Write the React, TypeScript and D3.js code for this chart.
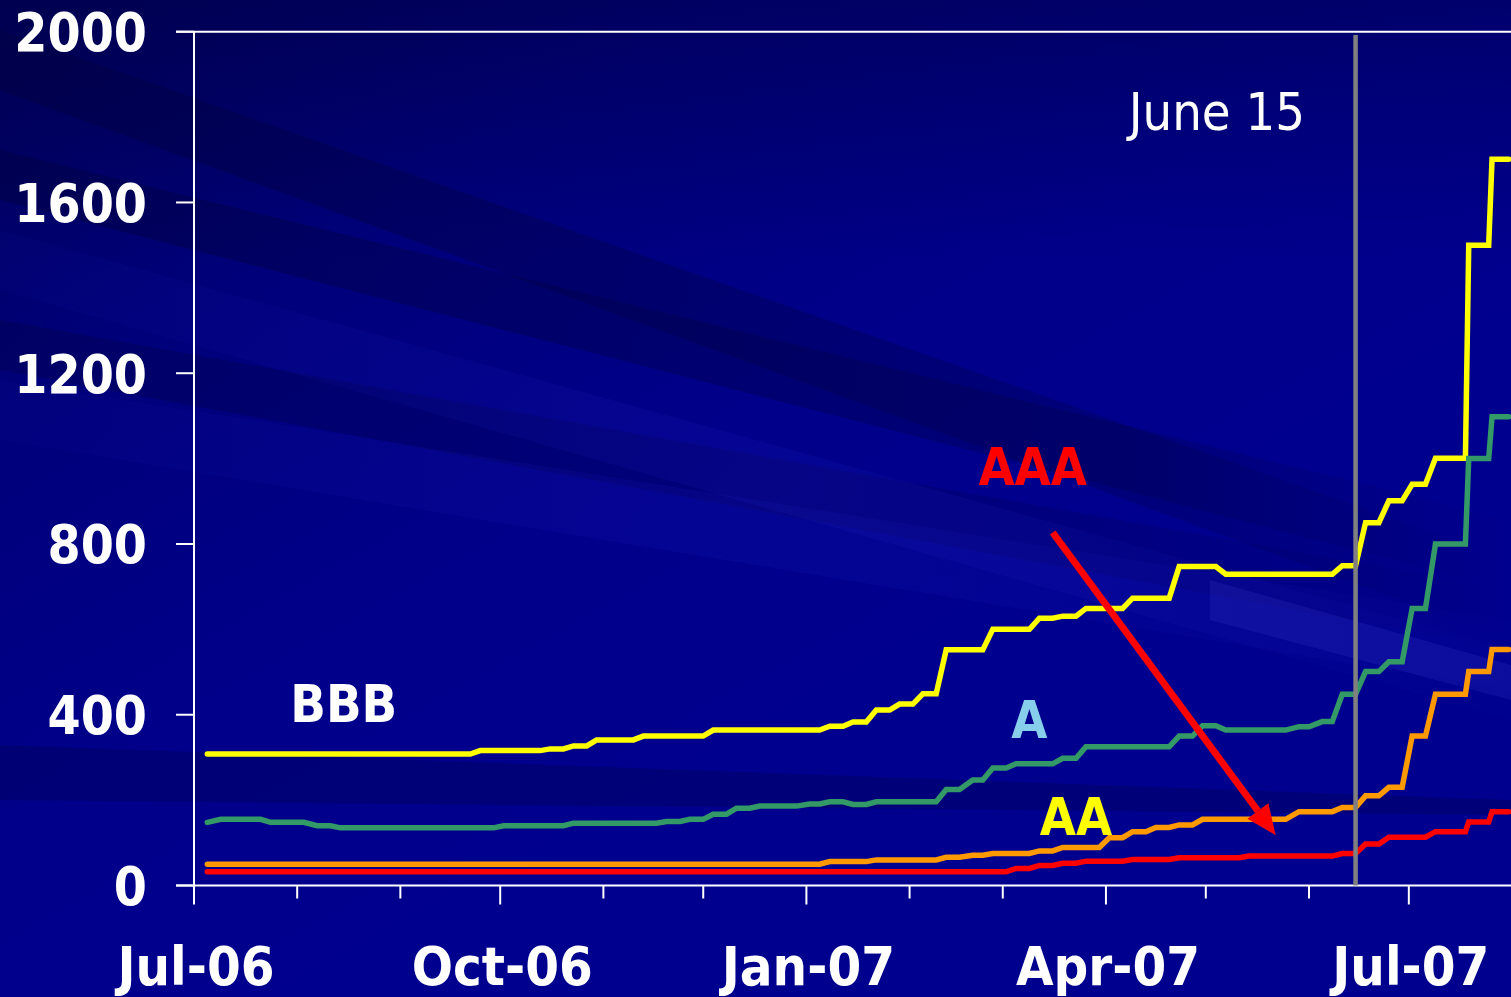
import React from "react";
import * as d3 from "d3";

// ---------- data ----------
type Seg = [string, string, number]; // [from, to, spread bp]

const bbbSegs: Seg[] = [
  ["2006-07-05", "2006-09-22", 308],
  ["2006-09-25", "2006-10-13", 316],
  ["2006-10-16", "2006-10-20", 320],
  ["2006-10-23", "2006-10-27", 327],
  ["2006-10-30", "2006-11-10", 341],
  ["2006-11-13", "2006-12-01", 350],
  ["2006-12-04", "2007-01-05", 364],
  ["2007-01-08", "2007-01-12", 373],
  ["2007-01-15", "2007-01-19", 383],
  ["2007-01-22", "2007-01-26", 411],
  ["2007-01-29", "2007-02-02", 425],
  ["2007-02-05", "2007-02-09", 449],
  ["2007-02-12", "2007-02-23", 552],
  ["2007-02-26", "2007-03-09", 600],
  ["2007-03-12", "2007-03-16", 626],
  ["2007-03-19", "2007-03-23", 631],
  ["2007-03-26", "2007-04-06", 649],
  ["2007-04-09", "2007-04-20", 673],
  ["2007-04-23", "2007-05-04", 747],
  ["2007-05-07", "2007-06-08", 729],
  ["2007-06-11", "2007-06-15", 749],
  ["2007-06-18", "2007-06-22", 850],
  ["2007-06-25", "2007-06-29", 901],
  ["2007-07-02", "2007-07-06", 940],
  ["2007-07-09", "2007-07-18", 1001],
  ["2007-07-19", "2007-07-25", 1500],
  ["2007-07-26", "2007-07-31", 1701],
];

const aSegs: Seg[] = [
  ["2006-07-05", "2006-07-05", 148],
  ["2006-07-09", "2006-07-21", 155],
  ["2006-07-24", "2006-08-03", 148],
  ["2006-08-07", "2006-08-11", 140],
  ["2006-08-14", "2006-09-29", 135],
  ["2006-10-02", "2006-10-20", 140],
  ["2006-10-23", "2006-11-17", 146],
  ["2006-11-20", "2006-11-24", 150],
  ["2006-11-27", "2006-12-01", 155],
  ["2006-12-04", "2006-12-08", 167],
  ["2006-12-11", "2006-12-15", 181],
  ["2006-12-18", "2006-12-29", 186],
  ["2007-01-02", "2007-01-05", 191],
  ["2007-01-08", "2007-01-12", 196],
  ["2007-01-15", "2007-01-19", 190],
  ["2007-01-22", "2007-02-09", 196],
  ["2007-02-12", "2007-02-16", 225],
  ["2007-02-20", "2007-02-23", 247],
  ["2007-02-26", "2007-03-02", 275],
  ["2007-03-05", "2007-03-16", 285],
  ["2007-03-19", "2007-03-23", 298],
  ["2007-03-26", "2007-04-20", 325],
  ["2007-04-23", "2007-04-27", 350],
  ["2007-04-30", "2007-05-04", 374],
  ["2007-05-07", "2007-05-25", 364],
  ["2007-05-29", "2007-06-01", 372],
  ["2007-06-05", "2007-06-08", 384],
  ["2007-06-11", "2007-06-15", 448],
  ["2007-06-18", "2007-06-22", 501],
  ["2007-06-25", "2007-06-29", 524],
  ["2007-07-02", "2007-07-06", 649],
  ["2007-07-09", "2007-07-18", 800],
  ["2007-07-19", "2007-07-25", 1000],
  ["2007-07-26", "2007-07-31", 1098],
];

const aaSegs: Seg[] = [
  ["2006-07-05", "2007-01-05", 50],
  ["2007-01-08", "2007-01-19", 56],
  ["2007-01-22", "2007-02-09", 60],
  ["2007-02-12", "2007-02-16", 66],
  ["2007-02-20", "2007-02-23", 71],
  ["2007-02-26", "2007-03-09", 75],
  ["2007-03-12", "2007-03-16", 81],
  ["2007-03-19", "2007-03-30", 89],
  ["2007-04-02", "2007-04-06", 112],
  ["2007-04-09", "2007-04-13", 126],
  ["2007-04-16", "2007-04-20", 136],
  ["2007-04-23", "2007-04-27", 142],
  ["2007-04-30", "2007-05-25", 155],
  ["2007-05-29", "2007-06-08", 173],
  ["2007-06-11", "2007-06-15", 183],
  ["2007-06-18", "2007-06-22", 210],
  ["2007-06-25", "2007-06-29", 230],
  ["2007-07-02", "2007-07-06", 350],
  ["2007-07-09", "2007-07-18", 448],
  ["2007-07-19", "2007-07-25", 501],
  ["2007-07-26", "2007-07-31", 553],
];

const aaaSegs: Seg[] = [
  ["2006-07-05", "2007-03-02", 32],
  ["2007-03-05", "2007-03-09", 40],
  ["2007-03-12", "2007-03-16", 47],
  ["2007-03-19", "2007-03-23", 52],
  ["2007-03-26", "2007-04-06", 57],
  ["2007-04-09", "2007-04-20", 61],
  ["2007-04-23", "2007-05-11", 65],
  ["2007-05-14", "2007-06-08", 69],
  ["2007-06-11", "2007-06-15", 75],
  ["2007-06-18", "2007-06-22", 97],
  ["2007-06-25", "2007-07-06", 113],
  ["2007-07-09", "2007-07-18", 126],
  ["2007-07-19", "2007-07-25", 149],
  ["2007-07-26", "2007-07-31", 173],
];

const seriesNames = ["BBB", "A", "AA", "AAA"];
const seriesColors = ["#FFFF00", "#339966", "#FF9900", "#FF0000"];
const seriesData = [bbbSegs, aSegs, aaSegs, aaaSegs];

const yTicks = [0, 400, 800, 1200, 1600, 2000];
const xLabelDates = ["2006-07-01", "2006-10-01", "2007-01-01", "2007-04-01", "2007-07-01"];
const xLabelTexts = ["Jul-06", "Oct-06", "Jan-07", "Apr-07", "Jul-07"];
const xDomain = ["2006-07-01", "2007-08-01"];
const markerDate = "2007-06-15";
const markerText = "June 15";

// labels: [text, anchor date, value, color]
const seriesLabels: [string, string, number, string][] = [
  ["BBB", "2006-08-15", 383, "#FFFFFF"],
  ["A", "2007-03-09", 345, "#87CEEB"],
  ["AA", "2007-03-23", 118, "#FFFF00"],
  ["AAA", "2007-03-10", 938, "#FF0000"],
];
// arrow from/to in data space
const arrowFrom: [string, number] = ["2007-03-16", 827];
const arrowTo: [string, number] = ["2007-05-22", 118];

// ---------- layout ----------
const W = 1511;
const H = 997;
const X0 = 194;
const X1 = 1512;
const Y0 = 885.5;
const Y1 = 31.7;
const FONT = '"DejaVu Sans Condensed", "DejaVu Sans", Verdana, sans-serif';

const parse = d3.timeParse("%Y-%m-%d")!;

export default function App() {
  const x = d3.scaleTime().domain(xDomain.map((d) => parse(d)!)).range([X0, X1]);
  const y = d3.scaleLinear().domain([0, 2000]).range([Y0, Y1]);

  const line = d3
    .line<[Date, number]>()
    .x((d) => x(d[0]))
    .y((d) => y(d[1]));

  const paths = seriesData.map((segs) => {
    const pts: [Date, number][] = [];
    segs.forEach(([a, b, v]) => {
      pts.push([parse(a)!, v]);
      if (b !== a) pts.push([parse(b)!, v]);
    });
    return line(pts) || "";
  });

  const months = x.ticks(d3.timeMonth.every(1)!);
  const mx = x(parse(markerDate)!);

  // arrow geometry
  const ax1 = x(parse(arrowFrom[0])!);
  const ay1 = y(arrowFrom[1]);
  const ax2 = x(parse(arrowTo[0])!);
  const ay2 = y(arrowTo[1]);
  const ang = Math.atan2(ay2 - ay1, ax2 - ax1);
  const headLen = 30;
  const headW = 13;
  const bx = ax2 - headLen * Math.cos(ang);
  const by = ay2 - headLen * Math.sin(ang);
  const px = -Math.sin(ang);
  const py = Math.cos(ang);
  const head = `M${ax2},${ay2}L${bx + headW * px},${by + headW * py}L${bx - headW * px},${by - headW * py}Z`;

  // decorative background bands
  const band = (l1: number, l2: number, r1: number, r2: number, xl = 0, xr = W) =>
    `M${xl},${l1}L${xr},${r1}L${xr},${r2}L${xl},${l2}Z`;

  return (
    <svg
      width={W}
      height={H}
      style={{ position: "absolute", left: 0, top: 0, display: "block" }}
      fontFamily={FONT}
    >
      <defs>
        <linearGradient id="bg" gradientUnits="userSpaceOnUse" x1={0} y1={0} x2={500} y2={900}>
          <stop offset="0" stopColor="#00005a" />
          <stop offset="0.35" stopColor="#00007a" />
          <stop offset="0.7" stopColor="#00008a" />
          <stop offset="1" stopColor="#00008e" />
        </linearGradient>
        <linearGradient id="topDark" x1="0" y1="0" x2="0" y2="1">
          <stop offset="0" stopColor="#000040" stopOpacity={0.4} />
          <stop offset="1" stopColor="#000040" stopOpacity={0} />
        </linearGradient>
        <linearGradient id="fadeR" x1="0" y1="0" x2="1" y2="0">
          <stop offset="0" stopColor="#000040" stopOpacity={0.45} />
          <stop offset="0.75" stopColor="#000040" stopOpacity={0.25} />
          <stop offset="1" stopColor="#000040" stopOpacity={0} />
        </linearGradient>
        <linearGradient id="liteR" x1="0" y1="0" x2="1" y2="0">
          <stop offset="0" stopColor="#2020c0" stopOpacity={0.05} />
          <stop offset="0.5" stopColor="#2020c0" stopOpacity={0.16} />
          <stop offset="1" stopColor="#2020c0" stopOpacity={0.04} />
        </linearGradient>
      </defs>
      <rect x={0} y={0} width={W} height={H} fill="url(#bg)" />
      {/* streaks */}
      <rect x={0} y={0} width={W} height={260} fill="url(#topDark)" />
      <path d={band(30, 90, 560, 640)} fill="url(#fadeR)" />
      <path d={band(150, 200, 520, 590)} fill="url(#fadeR)" />
      <path d={band(320, 370, 590, 650)} fill="url(#fadeR)" opacity={0.7} />
      <path d={band(380, 440, 620, 690)} fill="url(#liteR)" />
      <path d={band(230, 290, 650, 720)} fill="url(#liteR)" />
      <path d={band(745, 800, 800, 815)} fill="#000050" opacity={0.35} />
      <path d={band(580, 620, 665, 700, 1210, W)} fill="#4040d0" opacity={0.18} />

      {/* frame */}
      <line x1={176} x2={W} y1={Y1} y2={Y1} stroke="#fff" strokeWidth={2} />
      <line x1={176} x2={W} y1={Y0} y2={Y0} stroke="#fff" strokeWidth={2} />
      <line x1={X0} x2={X0} y1={Y1} y2={Y0} stroke="#fff" strokeWidth={2} />

      {/* y ticks & labels */}
      {yTicks.map((t) => (
        <g key={t}>
          <line x1={176} x2={X0} y1={y(t)} y2={y(t)} stroke="#fff" strokeWidth={2} />
          <text
            x={147}
            y={y(t) + 19.5}
            textAnchor="end"
            fill="#fff"
            fontWeight="bold"
            fontSize={53}
          >
            {t}
          </text>
        </g>
      ))}

      {/* x ticks */}
      {months.map((m, i) => {
        const major = m.getMonth() % 3 === 0;
        return (
          <line
            key={i}
            x1={x(m)}
            x2={x(m)}
            y1={Y0}
            y2={Y0 + (major ? 19 : 13)}
            stroke="#fff"
            strokeWidth={2}
          />
        );
      })}
      {xLabelDates.map((d, i) => (
        <text
          key={d}
          x={x(parse(d)!) + 2}
          y={985}
          textAnchor="middle"
          fill="#fff"
          fontWeight="bold"
          fontSize={54}
        >
          {xLabelTexts[i]}
        </text>
      ))}

      {/* series */}
      {paths.map((p, i) => (
        <path
          key={seriesNames[i]}
          d={p}
          fill="none"
          stroke={seriesColors[i]}
          strokeWidth={5.5}
          strokeLinecap="round"
          strokeLinejoin="miter"
        />
      ))}

      {/* June 15 marker */}
      <line x1={mx} x2={mx} y1={35} y2={Y0} stroke="#808080" strokeWidth={4.5} />
      <text x={1305} y={130} textAnchor="end" fill="#fff" fontSize={52}>
        {markerText}
      </text>

      {/* arrow */}
      <line x1={ax1} y1={ay1} x2={bx} y2={by} stroke="#FF0000" strokeWidth={7} />
      <path d={head} fill="#FF0000" />

      {/* series labels */}
      {seriesLabels.map(([t, d, v, c]) => (
        <text
          key={t}
          x={x(parse(d)!)}
          y={y(v)}
          textAnchor="middle"
          fill={c}
          fontWeight="bold"
          fontSize={52}
        >
          {t}
        </text>
      ))}
    </svg>
  );
}
